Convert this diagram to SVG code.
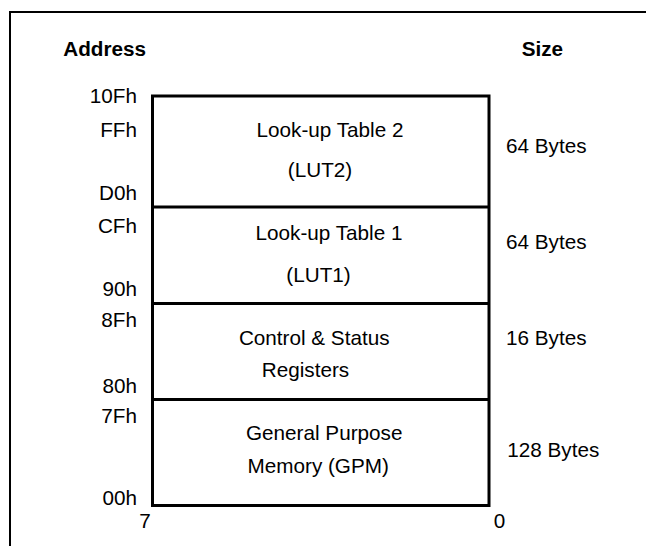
<svg xmlns="http://www.w3.org/2000/svg" width="646" height="546" viewBox="0 0 646 546">
<style>
text{font-family:"Liberation Sans",Arial,Helvetica,sans-serif;font-size:20.7px;fill:#000}
.b{font-weight:bold}
.r{text-anchor:end}
.m{text-anchor:middle}
.frame{fill:none;stroke:#000;stroke-width:2}
.box{fill:#fff;stroke:#000;stroke-width:3}
.div{stroke:#000;stroke-width:3}
</style>
<rect width="646" height="546" fill="#fff"/>
<g id="frame">
<path class="frame" d="M10,546 V12 H646"/>
</g>
<g id="headers">
<text class="b" x="63.3" y="55.5">Address</text>
<text class="b" x="521.7" y="55.5">Size</text>
</g>
<g id="addresses">
<text class="r" x="137" y="103.3">10Fh</text>
<text class="r" x="137" y="137.3">FFh</text>
<text class="r" x="137" y="200">D0h</text>
<text class="r" x="137" y="232.5">CFh</text>
<text class="r" x="137" y="296">90h</text>
<text class="r" x="137" y="327.3">8Fh</text>
<text class="r" x="137" y="393.3">80h</text>
<text class="r" x="137" y="423.3">7Fh</text>
<text class="r" x="137" y="505">00h</text>
<text class="m" x="145" y="528.3">7</text>
<text class="m" x="499.5" y="528.3">0</text>
</g>
<g id="memory-map">
<rect class="box" x="152.5" y="96" width="336.5" height="409.5"/>
</g>
<g id="connectors">
<line class="div" x1="152.5" y1="207" x2="489" y2="207"/>
<line class="div" x1="152.5" y1="303.5" x2="489" y2="303.5"/>
<line class="div" x1="152.5" y1="399.5" x2="489" y2="399.5"/>
</g>
<g id="lut2">
<text class="m" x="330" y="136.7">Look-up Table 2</text>
<text class="m" x="320" y="177.3">(LUT2)</text>
<text x="506" y="153.3">64 Bytes</text>
</g>
<g id="lut1">
<text class="m" x="329" y="240">Look-up Table 1</text>
<text class="m" x="318.5" y="281.7">(LUT1)</text>
<text x="506" y="249.3">64 Bytes</text>
</g>
<g id="csr">
<text class="m" x="314.2" y="345">Control &amp; Status</text>
<text class="m" x="305.5" y="376.7">Registers</text>
<text x="506" y="345">16 Bytes</text>
</g>
<g id="gpm">
<text class="m" x="324.2" y="440">General Purpose</text>
<text class="m" x="318.2" y="473.3">Memory (GPM)</text>
<text x="507.3" y="457.3">128 Bytes</text>
</g>
</svg>
